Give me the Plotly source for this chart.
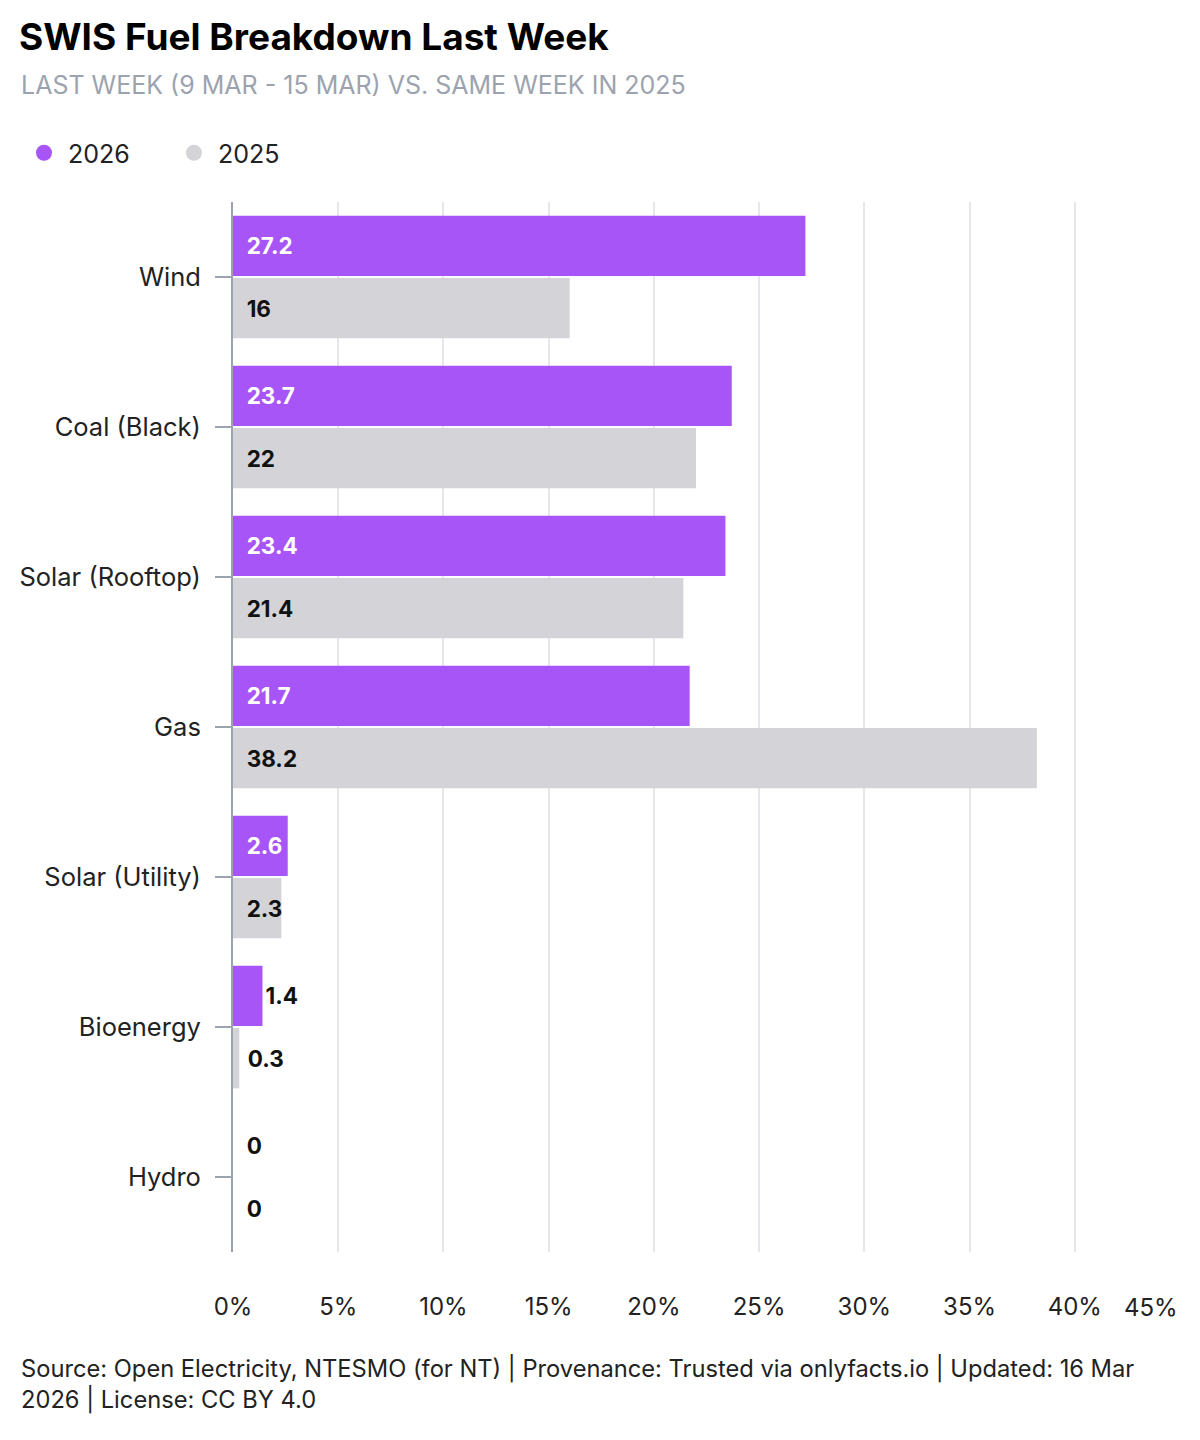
import plotly.graph_objects as go

categories = ["Wind", "Coal (Black)", "Solar (Rooftop)", "Gas", "Solar (Utility)", "Bioenergy", "Hydro"]
values_2026 = [27.2, 23.7, 23.4, 21.7, 2.6, 1.4, 0]
values_2025 = [16, 22, 21.4, 38.2, 2.3, 0.3, 0]
tick_vals = [0, 5, 10, 15, 20, 25, 30, 35, 40, 45]
tick_text = ["0%", "5%", "10%", "15%", "20%", "25%", "30%", "35%", "40%", ""]
legend_names = ["2026", "2025"]

title = "SWIS Fuel Breakdown Last Week"
subtitle = "LAST WEEK (9 MAR - 15 MAR) VS. SAME WEEK IN 2025"
footer = ("Source: Open Electricity, NTESMO (for NT) | Provenance: Trusted via onlyfacts.io | Updated: 16 Mar"
          "<br>2026 | License: CC BY 4.0")

PURPLE = "#a855f7"
GRAY = "#d4d4d8"
FONT = "Inter"

# page body has an 8px margin; figure is sized to fit the 1200x1440 window
OFF = 8
W, H = 1200 - OFF, 1440 - 2 * OFF
PL, PR, PT, PB = 233, 1180, 202, 1252          # plot area in window pixels
L, R = PL - OFF, W - (PR - OFF)
T, B = PT - OFF, H - (PB - OFF)
XMAX = 45
px_per_unit = (PR - PL) / XMAX
NB = "\u00a0"


def px_x(sx):
    return (sx - PL) / (PR - PL)


def px_y(sy):
    return (PB - sy) / (PB - PT)


def label_props(vals, inside_color):
    texts, positions, colors = [], [], []
    for v in vals:
        bar_px = v * px_per_unit
        if bar_px >= 40:
            texts.append(NB * 2 + f"{v:g}")
            positions.append("inside")
            colors.append(inside_color)
        else:
            pad = max(0, round((12 - bar_px) / 6))
            texts.append(NB * pad + f"{v:g}")
            positions.append("outside")
            colors.append("#111111")
    return texts, positions, colors


t26, p26, c26 = label_props(values_2026, "#ffffff")
t25, p25, c25 = label_props(values_2025, "#111111")

fig = go.Figure()
for vals, col, txt, pos, tcol, nm in [(values_2026, PURPLE, t26, p26, c26, "2026"),
                                      (values_2025, GRAY, t25, p25, c25, "2025")]:
    fig.add_trace(go.Bar(
        y=categories, x=vals, orientation="h", name=nm,
        marker=dict(color=col, line=dict(width=0)),
        text=txt, textposition=pos, insidetextanchor="start", textangle=0,
        textfont=dict(family=FONT, size=22.5, color=tcol, weight="bold"),
        outsidetextfont=dict(family=FONT, size=22.5, color="#111111", weight="bold"),
        constraintext="none", cliponaxis=False, showlegend=False, hoverinfo="skip",
    ))

# legend entries with circle markers
for name, col in zip(legend_names, [PURPLE, GRAY]):
    fig.add_trace(go.Scatter(
        x=[None], y=[None], mode="markers", name=name + NB * 5,
        marker=dict(symbol="circle", size=20, color=col),
        showlegend=True, hoverinfo="skip",
    ))

fig.update_layout(
    width=W, height=H,
    margin=dict(l=L, r=R, t=T, b=B, pad=0),
    paper_bgcolor="white", plot_bgcolor="white",
    font=dict(family=FONT, color="#222222"),
    barmode="group", bargap=0.17, bargroupgap=0.03,
    title=dict(
        text=title, x=(19 - OFF) / W, xanchor="left", xref="container",
        y=1 - (37 - OFF) / H, yanchor="middle", yref="container",
        font=dict(family=FONT, size=37, color="#000000", weight="bold"),
    ),
    legend=dict(
        orientation="h", x=(20 - OFF) / W, xanchor="left", xref="container",
        y=1 - (153 - OFF) / H, yanchor="middle", yref="container",
        font=dict(family=FONT, size=25, color="#222222"),
        itemsizing="trace", itemwidth=38, tracegroupgap=0,
    ),
    xaxis=dict(
        range=[0, XMAX], tickvals=tick_vals, ticktext=tick_text,
        showgrid=True, gridcolor="#e5e7eb", gridwidth=2,
        zeroline=False, showline=False, ticks="",
        tickfont=dict(family=FONT, size=24, color="#222222"),
        ticklabelstandoff=38, fixedrange=True,
    ),
    yaxis=dict(
        autorange="reversed", showgrid=False, zeroline=False,
        showline=True, linecolor="#9ca3af", linewidth=2, layer="below traces",
        ticks="outside", ticklen=16, tickwidth=1.5, tickcolor="#9ca3af",
        tickfont=dict(family=FONT, size=25.5, color="#222222"),
        ticklabelstandoff=9, fixedrange=True,
    ),
    annotations=[
        dict(text=subtitle, xref="paper", yref="paper",
             x=px_x(19), y=px_y(85),
             xanchor="left", yanchor="middle", showarrow=False,
             font=dict(family=FONT, size=25, color="#9ca3af")),
        dict(text="45%", xref="x", yref="paper", x=XMAX, y=px_y(1307),
             xanchor="right", yanchor="middle", showarrow=False,
             font=dict(family=FONT, size=24, color="#222222")),
        dict(text=footer, xref="paper", yref="paper",
             x=px_x(19), y=px_y(1352),
             xanchor="left", yanchor="top", align="left", showarrow=False,
             font=dict(family=FONT, size=23.7, color="#222222")),
    ],
)

fig.write_html("out.html")
